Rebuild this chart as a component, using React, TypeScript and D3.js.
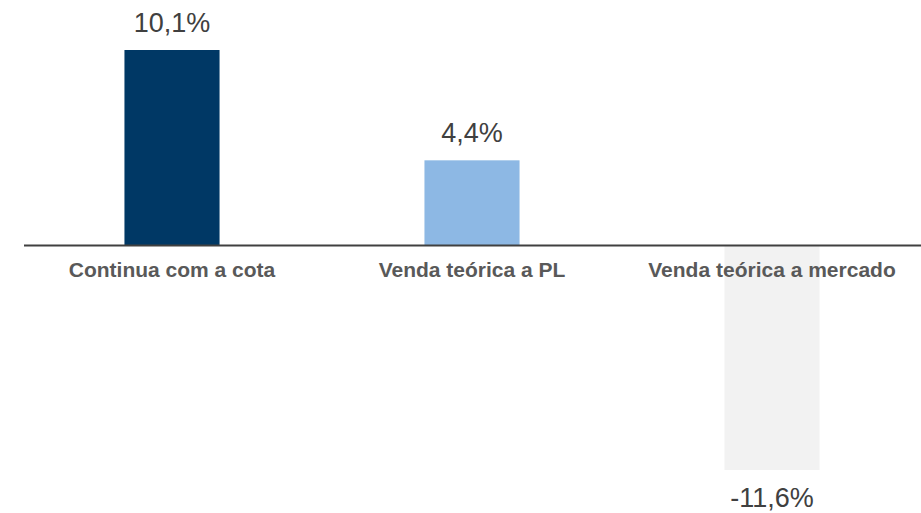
import React, { useEffect, useRef } from "react";
import * as d3 from "d3";

const categories = ["Continua com a cota", "Venda teórica a PL", "Venda teórica a mercado"];
const values = [10.1, 4.4, -11.6];
const valueLabels = ["10,1%", "4,4%", "-11,6%"];
const barColors = ["#003865", "#8db8e4", "#f2f2f2"];

const App = () => {
  const svgRef = useRef<SVGSVGElement>(null);

  useEffect(() => {
    const width = 921;
    const height = 513;
    const font = "'Liberation Sans', Arial, sans-serif";

    const svg = d3.select(svgRef.current);
    svg.selectAll("*").remove();
    svg.attr("width", width).attr("height", height).style("background", "#fff");

    const x = d3
      .scaleBand<string>()
      .domain(categories)
      .range([22, 922])
      .paddingInner(0.683)
      .paddingOuter(0.3415);

    const y = d3
      .scaleLinear()
      .domain([d3.min(values) as number, d3.max(values) as number])
      .range([470, 50]);

    const data = categories.map((c, i) => ({
      cat: c,
      v: values[i],
      label: valueLabels[i],
      color: barColors[i],
    }));

    // bars
    svg
      .selectAll("rect.bar")
      .data(data)
      .join("rect")
      .attr("class", "bar")
      .attr("x", (d) => x(d.cat) as number)
      .attr("width", x.bandwidth())
      .attr("y", (d) => y(Math.max(0, d.v)))
      .attr("height", (d) => Math.abs(y(d.v) - y(0)))
      .attr("fill", (d) => d.color);

    // zero line
    svg
      .append("line")
      .attr("x1", x.range()[0] + 2)
      .attr("x2", width)
      .attr("y1", y(0))
      .attr("y2", y(0))
      .attr("stroke", "#404040")
      .attr("stroke-width", 2);

    // category labels
    svg
      .selectAll("text.cat")
      .data(data)
      .join("text")
      .attr("class", "cat")
      .attr("x", (d) => (x(d.cat) as number) + x.bandwidth() / 2)
      .attr("y", y(0) + 32)
      .attr("text-anchor", "middle")
      .attr("font-family", font)
      .attr("font-weight", "bold")
      .attr("font-size", 21)
      .attr("fill", "#595959")
      .text((d) => d.cat);

    // value labels
    svg
      .selectAll("text.val")
      .data(data)
      .join("text")
      .attr("class", "val")
      .attr("x", (d) => (x(d.cat) as number) + x.bandwidth() / 2)
      .attr("y", (d) => (d.v >= 0 ? y(d.v) - 18 : y(d.v) + 37))
      .attr("text-anchor", "middle")
      .attr("font-family", font)
      .attr("font-size", 27)
      .attr("fill", "#404040")
      .text((d) => d.label);
  }, []);

  return (
    <div style={{ position: "absolute", left: 0, top: 0 }}>
      <svg ref={svgRef} style={{ display: "block" }} />
    </div>
  );
};

export default App;
